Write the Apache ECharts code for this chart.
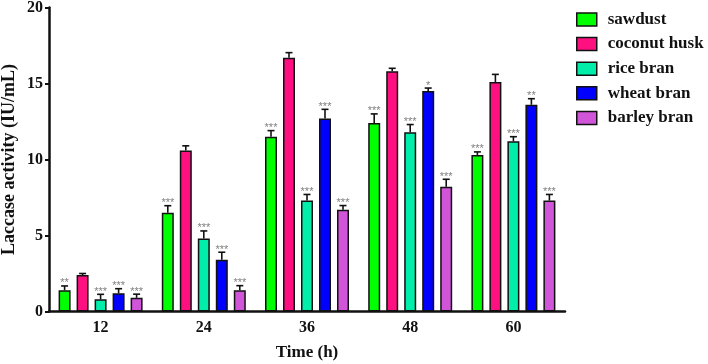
<!DOCTYPE html>
<html><head><meta charset="utf-8">
<script src="https://cdn.jsdelivr.net/npm/echarts@6/dist/echarts.min.js"></script>
<style>html,body{margin:0;padding:0;background:#fff}#c{width:708px;height:364px}</style>
</head><body><div id="c"></div>
<script>
const categories = ['12', '24', '36', '48', '60'];
const seriesNames = ['sawdust', 'coconut husk', 'rice bran', 'wheat bran', 'barley bran'];
const sawdust = [1.4, 6.5, 11.5, 12.4, 10.3];
const coconutHusk = [2.4, 10.6, 16.7, 15.8, 15.1];
const riceBran = [0.8, 4.8, 7.3, 11.8, 11.2];
const wheatBran = [1.2, 3.4, 12.7, 14.5, 13.6];
const barleyBran = [0.9, 1.4, 6.7, 8.2, 7.3];
const sawdustErr = [0.28, 0.46, 0.4, 0.6, 0.2];
const coconutHuskErr = [0.1, 0.3, 0.33, 0.2, 0.5];
const riceBranErr = [0.33, 0.5, 0.4, 0.5, 0.3];
const wheatBranErr = [0.3, 0.5, 0.6, 0.2, 0.4];
const barleyBranErr = [0.24, 0.3, 0.27, 0.5, 0.4];
const sawdustSig = ['**', '***', '***', '***', '***'];
const coconutHuskSig = ['', '', '', '', ''];
const riceBranSig = ['***', '***', '***', '***', '***'];
const wheatBranSig = ['***', '***', '***', '*', '**'];
const barleyBranSig = ['***', '***', '***', '***', '***'];
const yTicks = [0, 5, 10, 15, 20];

const values = [sawdust, coconutHusk, riceBran, wheatBran, barleyBran];
const errs = [sawdustErr, coconutHuskErr, riceBranErr, wheatBranErr, barleyBranErr];
const sigs = [sawdustSig, coconutHuskSig, riceBranSig, wheatBranSig, barleyBranSig];
const colors = ['#00ff00', '#ff1080', '#00eeaa', '#0000ff', '#d055d8'];

const FONT = 'Liberation Serif';
const BAR_W = 12, PITCH = 18;

const series = [];
values.forEach((v, i) => {
  series.push({
    name: seriesNames[i], type: 'bar', data: v, barWidth: BAR_W, barGap: '50%',
    itemStyle: { color: colors[i], borderColor: '#111', borderWidth: 1.5 },
    z: 2
  });
});
values.forEach((v, i) => {
  series.push({
    type: 'custom', z: 5, silent: true,
    data: v.map((val, k) => [k, val, errs[i][k], sigs[i][k]]),
    encode: { x: 0, y: 1 },
    renderItem: function (params, api) {
      const cat = api.value(0), val = api.value(1), e = api.value(2);
      const sig = sigs[i][cat];
      const base = api.coord([cat, val]);
      const top = api.coord([cat, val + e]);
      const x = base[0] + (i - 2) * PITCH;
      const children = [
        { type: 'line', shape: { x1: x, y1: base[1], x2: x, y2: top[1] }, style: { stroke: '#111', lineWidth: 1.6 } },
        { type: 'line', shape: { x1: x - 3.5, y1: top[1], x2: x + 3.5, y2: top[1] }, style: { stroke: '#111', lineWidth: 1.6 } }
      ];
      if (sig) {
        children.push({ type: 'text', style: { text: sig, x: x, y: top[1] + 3, textAlign: 'center', textVerticalAlign: 'bottom', fill: '#808080', font: '11px "Liberation Sans"' } });
      }
      return { type: 'group', children: children };
    }
  });
});

const chart = echarts.init(document.getElementById('c'));
chart.setOption({
  animation: false,
  backgroundColor: '#fff',
  color: colors,
  grid: { left: 49, right: 143, top: 7.5, bottom: 52.5, containLabel: false, outerBoundsMode: 'none' },
  legend: {
    data: seriesNames, orient: 'vertical', left: 576, top: 11, padding: 0,
    itemWidth: 20, itemHeight: 13, itemGap: 7.6,
    icon: 'rect',
    itemStyle: { borderColor: '#111', borderWidth: 1.5 },
    textStyle: { fontFamily: FONT, fontWeight: 'bold', fontSize: 17, color: '#111', lineHeight: 17, padding: [0, 0, 0, 6] }
  },
  xAxis: {
    type: 'category', data: categories,
    name: 'Time (h)', nameLocation: 'middle', nameGap: 33, nameMoveOverlap: false,
    nameTextStyle: { fontFamily: FONT, fontWeight: 'bold', fontSize: 17, color: '#111' },
    axisLine: { lineStyle: { color: '#111', width: 2.5 } },
    axisTick: { alignWithLabel: true, length: 5, lineStyle: { width: 2, color: '#111' } },
    axisLabel: { fontFamily: FONT, fontWeight: 'bold', fontSize: 16, color: '#111', margin: 8 }
  },
  yAxis: {
    type: 'value', min: yTicks[0], max: yTicks[yTicks.length - 1], interval: 5,
    name: 'Laccase activity (IU/mL)', nameLocation: 'middle', nameGap: 31, nameMoveOverlap: false,
    nameTextStyle: { fontFamily: FONT, fontWeight: 'bold', fontSize: 18, color: '#111' },
    axisLine: { show: true, lineStyle: { color: '#111', width: 2.5 } },
    axisTick: { show: true, length: 4, lineStyle: { width: 2, color: '#111' } },
    axisLabel: { fontFamily: FONT, fontWeight: 'bold', fontSize: 16, color: '#111', margin: 6 },
    splitLine: { show: false }
  },
  series: series
});
</script></body></html>
